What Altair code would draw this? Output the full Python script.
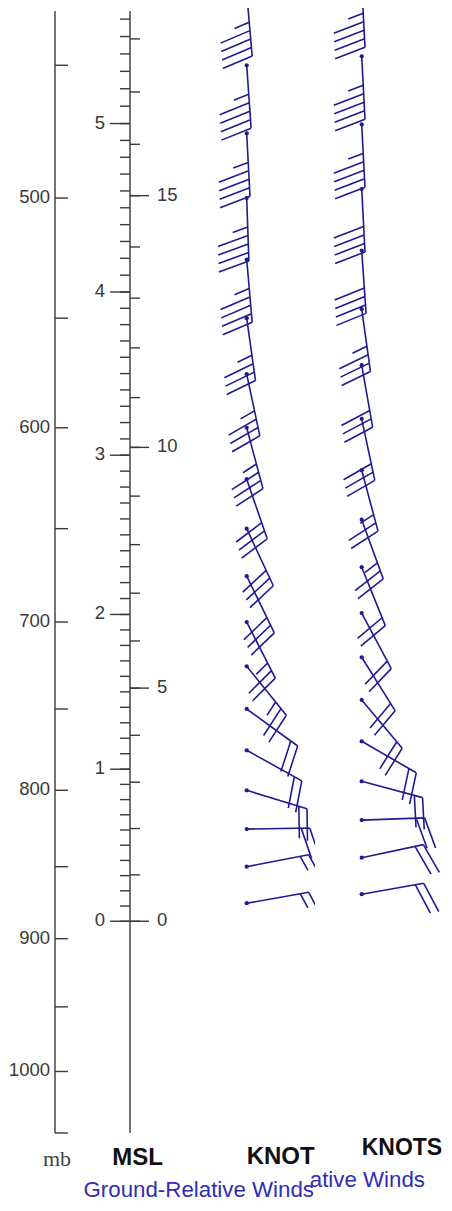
import altair as alt
import numpy as np
import pandas as pd

# ---------------- data ----------------
PRESSURE_LEVELS = [425, 450, 475, 500, 525, 550, 575, 600, 625, 650,
                   675, 700, 725, 750, 775, 800, 825, 850, 875]
GROUND_DIR = [175, 176, 177, 178, 175, 172, 168, 165, 161, 155,
              154, 153, 141, 126, 119, 107, 89, 79, 80]
GROUND_SPD = [45, 45, 45, 45, 45, 35, 35, 35, 30, 30,
              30, 25, 25, 20, 20, 20, 20, 15, 15]
STORM_DIR = [177, 177, 177, 177, 176, 172, 170, 168, 165, 160,
             158, 152, 148, 140, 120, 105, 88, 78, 80]
STORM_SPD = [45, 45, 45, 40, 40, 35, 30, 30, 25, 25,
             20, 20, 20, 20, 20, 20, 20, 20, 20]

P_LABELED = [500, 600, 700, 800, 900, 1000]
P_MINOR = [450, 550, 650, 750, 850, 950, 1050]

HEIGHT_ANCHOR_KM = [0, 1, 2, 3, 4, 5, 6]
HEIGHT_ANCHOR_MB = [887.6, 786.7, 695.8, 613.2, 538.7, 471.3, 410.5]
KM_LABELS = [0, 1, 2, 3, 4, 5]
KFT_LABELS = [0, 5, 10, 15]
KM_MINOR_STEP = 0.1
KM_TOP = 5.7
KFT_TOP = 18

AXIS_TOP_MB = 431
AXIS_BOTTOM_MB = 1050

# ---------------- layout / style ----------------
W, H = 436, 1195
YSCALE = alt.Scale(type="log", domain=[430, 1110], reverse=True, nice=False, zero=False)
INK = "#3a3a3a"
NAVY = "#1c1c94"
BLUE_TXT = "#2e2eb4"
FONT = "Liberation Sans"

STAFF = 63.0
SPACING = 8.5
FULL = 32.0
HALF = 16.0
BARB_ANG = 72.0


def Y(field):
    return alt.Y(f"{field}:Q", scale=YSCALE, axis=None)


def height_to_p(km):
    return np.exp(np.interp(km, HEIGHT_ANCHOR_KM, np.log(HEIGHT_ANCHOR_MB)))


def barb_path(speed):
    a = np.radians(BARB_ANG)
    dx, dy = -np.sin(a), np.cos(a)
    parts = [f"M0,0L0,{STAFF:.2f}"]
    n_full = int(speed // 10)
    half = (speed % 10) >= 5
    pos = STAFF
    for _ in range(n_full):
        parts.append(f"M0,{pos:.2f}L{FULL*dx:.2f},{pos+FULL*dy:.2f}")
        pos -= SPACING
    if half:
        if n_full == 0:
            pos -= SPACING
        parts.append(f"M0,{pos:.2f}L{HALF*dx:.2f},{pos+HALF*dy:.2f}")
    return "".join(parts)


def wind_frame(dirs, spds):
    return pd.DataFrame({
        "p": PRESSURE_LEVELS,
        "rot": [(d + 180) % 360 for d in dirs],
        "path": [barb_path(s) for s in spds],
    })


ground = wind_frame(GROUND_DIR, GROUND_SPD)
storm = wind_frame(STORM_DIR, STORM_SPD)

p_major = pd.DataFrame({"p": P_LABELED, "label": [str(v) for v in P_LABELED]})
p_minor = pd.DataFrame({"p": P_MINOR})

km_minor_vals = np.round(np.arange(0, KM_TOP + 1e-9, KM_MINOR_STEP), 2)
km_minor = pd.DataFrame({"p": height_to_p(km_minor_vals)})
km_major = pd.DataFrame({"p": height_to_p(np.array(KM_LABELS, float)),
                         "label": [str(v) for v in KM_LABELS]})
kft_minor_vals = np.arange(0, KFT_TOP + 1)
kft_minor = pd.DataFrame({"p": height_to_p(kft_minor_vals * 0.3048)})
kft_major = pd.DataFrame({"p": height_to_p(np.array(KFT_LABELS) * 0.3048),
                          "label": [str(v) for v in KFT_LABELS]})
axis_span = pd.DataFrame({"p1": [AXIS_TOP_MB], "p2": [AXIS_BOTTOM_MB]})


def ticks(df, x1, x2):
    return alt.Chart(df).mark_rule(color=INK, strokeWidth=1.4).encode(
        y=Y("p"), x=alt.value(x1), x2=alt.value(x2))


def axis_line(x):
    return alt.Chart(axis_span).mark_rule(color=INK, strokeWidth=1.4).encode(
        x=alt.value(x), y=Y("p1"), y2=alt.Y2("p2"))


def labels(df, x, align):
    return alt.Chart(df).mark_text(align=align, baseline="middle", font=FONT,
                                   fontSize=18.5, color=INK, dy=-1).encode(
        y=Y("p"), x=alt.value(x), text="label:N")


def barbs(df, x, yoff=0):
    staffs = alt.Chart(df).mark_point(filled=False, stroke=NAVY, strokeWidth=1.6,
                                      opacity=1, yOffset=yoff).encode(
        y=Y("p"), x=alt.value(x),
        shape=alt.Shape("path:N", scale=None, legend=None),
        angle=alt.Angle("rot:Q", scale=None),
        size=alt.value(4))
    dots = alt.Chart(df).mark_circle(color=NAVY, opacity=1, size=18, yOffset=yoff).encode(
        y=Y("p"), x=alt.value(x))
    return staffs + dots


def text_at(txt, x, y, **kw):
    return alt.Chart(pd.DataFrame({"t": [txt]})).mark_text(**kw).encode(
        x=alt.value(x), y=alt.value(y), text="t:N")


def rect_at(x1, x2, y1, y2):
    return alt.Chart(pd.DataFrame({"a": [0]})).mark_rect(color="white", opacity=1).encode(
        x=alt.value(x1), x2=alt.value(x2), y=alt.value(y1), y2=alt.value(y2))


# page coordinate -> chart coordinate: subtract the 8px page margin
PX = lambda v: v - 8

left_window = [
    axis_line(PX(55)),
    ticks(p_major, PX(55), PX(68)),
    ticks(p_minor, PX(55), PX(68)),
    labels(p_major, PX(50), "right"),
    axis_line(PX(130)),
    ticks(km_minor, PX(120), PX(130)),
    ticks(km_major, PX(110), PX(130)),
    ticks(kft_minor, PX(130), PX(140)),
    ticks(kft_major, PX(130), PX(149)),
    labels(km_major, PX(105), "right"),
    labels(kft_major, PX(157), "left"),
    barbs(ground, PX(246.7)),
    text_at("mb", PX(57), PX(1166), align="center", baseline="alphabetic",
            font="Liberation Serif", fontSize=22, color="#444444"),
    text_at("MSL", PX(137.5), PX(1165), align="center", baseline="alphabetic",
            font=FONT, fontSize=24, fontWeight="bold", color="#111111"),
    text_at("KNOTS", PX(246.7), PX(1164), align="left", baseline="alphabetic",
            font=FONT, fontSize=24, fontWeight="bold", color="#111111"),
    text_at("Ground-Relative Winds", PX(83.5), PX(1197), align="left",
            baseline="alphabetic", font=FONT, fontSize=22.3, color=BLUE_TXT),
]

# the overlapping right-hand window (shifted 9px up); it hides what lies under it
right_bg = rect_at(PX(315), W, 0, PX(1168))
right_window = [
    barbs(storm, PX(361.7), yoff=-9),
    text_at("KNOTS", PX(361.7), PX(1155), align="left", baseline="alphabetic",
            font=FONT, fontSize=23, fontWeight="bold", color="#111111"),
    text_at("ative Winds", PX(425), PX(1187), align="right",
            baseline="alphabetic", font=FONT, fontSize=22.3, color=BLUE_TXT),
]

chart = alt.layer(*left_window, right_bg, *right_window).properties(
    width=W, height=H, padding=0,
    autosize=alt.AutoSizeParams(type="none"),
    background="white",
).configure_view(stroke=None)

chart.save("out.html", embed_options={"renderer": "svg", "actions": False})
